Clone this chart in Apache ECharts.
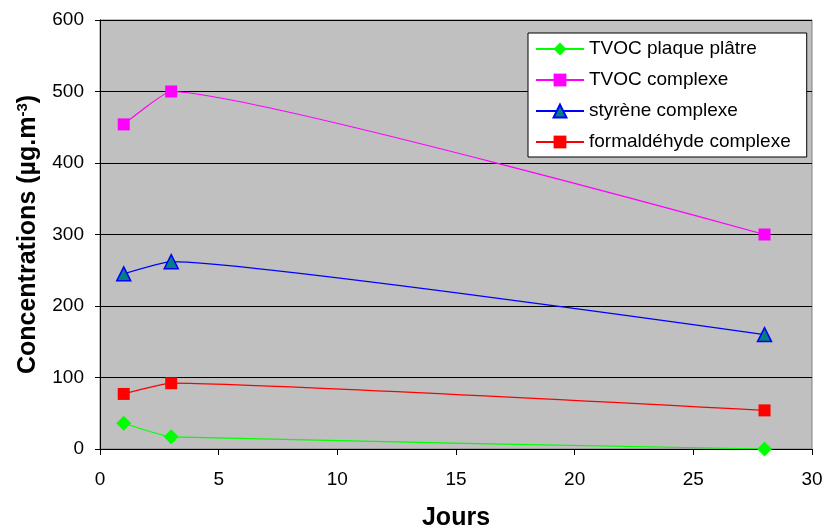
<!DOCTYPE html>
<html>
<head>
<meta charset="utf-8">
<script src="https://cdn.jsdelivr.net/npm/echarts@6/dist/echarts.min.js"></script>
<style>html,body{margin:0;padding:0;background:#fff;}#c{width:825px;height:531px;}</style>
</head>
<body>
<div id="c"></div>
<script>
const days = [1, 3, 28];
const tvocPlaque = [36, 17, 0];
const tvocComplexe = [454, 500, 300];
const styreneComplexe = [245, 262, 160];
const formaldehydeComplexe = [77, 92, 54];
const seriesNames = ['TVOC plaque plâtre', 'TVOC complexe', 'styrène complexe', 'formaldéhyde complexe'];

const pairs = v => days.map((d, i) => [d, v[i]]);
const font = 'Liberation Sans, Arial, sans-serif';
const sm = 0.13;

const chart = echarts.init(document.getElementById('c'));
chart.setOption({
  animation: false,
  grid: { left: 100, top: 20, right: 13, bottom: 82, outerBoundsMode: 'none', containLabel: false,
    show: true, backgroundColor: '#c0c0c0', borderColor: '#808080', borderWidth: 1 },
  legend: {
    orient: 'vertical', left: 528, top: 33,
    backgroundColor: '#fff', borderColor: '#000', borderWidth: 1, borderRadius: 0,
    padding: [5, 16, 4, 7], itemGap: 9, itemWidth: 48, itemHeight: 16,
    textStyle: { fontFamily: font, fontSize: 19, color: '#000', lineHeight: 22 },
    data: seriesNames
  },
  xAxis: {
    type: 'value', min: 0, max: 30, interval: 5,
    name: 'Jours', nameLocation: 'middle', nameGap: 57,
    nameTextStyle: { fontFamily: font, fontSize: 25, fontWeight: 'bold', color: '#000' },
    axisLine: { show: true, lineStyle: { color: '#000', width: 1 } },
    axisTick: { show: true, inside: false, length: 6, lineStyle: { color: '#000' } },
    axisLabel: { fontFamily: font, fontSize: 19, color: '#000', margin: 21 },
    splitLine: { show: false }
  },
  yAxis: {
    type: 'value', min: 0, max: 600, interval: 100,
    name: '{n|Concentrations (µg.m}{s|-3}{n|)}', nameLocation: 'middle', nameGap: 58, nameRotate: 90,
    nameTextStyle: {
      rich: {
        n: { fontFamily: font, fontSize: 25, fontWeight: 'bold', color: '#000' },
        s: { fontFamily: font, fontSize: 15, fontWeight: 'bold', color: '#000', verticalAlign: 'top', padding: [0, 0, 12, 0] }
      }
    },
    axisLine: { show: true, lineStyle: { color: '#000', width: 1 } },
    axisTick: { show: true, inside: false, length: 5, lineStyle: { color: '#000' } },
    axisLabel: { fontFamily: font, fontSize: 19, color: '#000', margin: 16 },
    splitLine: { show: true, lineStyle: { color: '#000', width: 1 } }
  },
  series: [
    { name: seriesNames[0], type: 'line', data: pairs(tvocPlaque), smooth: sm, symbol: 'diamond', symbolSize: 15,
      lineStyle: { color: '#00ff00', width: 1.2 }, itemStyle: { color: '#00ff00' } },
    { name: seriesNames[1], type: 'line', data: pairs(tvocComplexe), smooth: sm, symbol: 'rect', symbolSize: 12,
      lineStyle: { color: '#ff00ff', width: 1.2 }, itemStyle: { color: '#ff00ff' } },
    { name: seriesNames[2], type: 'line', data: pairs(styreneComplexe), smooth: sm, symbol: 'triangle', symbolSize: 14,
      lineStyle: { color: '#0000ff', width: 1.2 }, itemStyle: { color: '#008080', borderColor: '#0000ff', borderWidth: 1.5 } },
    { name: seriesNames[3], type: 'line', data: pairs(formaldehydeComplexe), smooth: sm, symbol: 'rect', symbolSize: 12,
      lineStyle: { color: '#ff0000', width: 1.2 }, itemStyle: { color: '#ff0000' } }
  ]
});
</script>
</body>
</html>
